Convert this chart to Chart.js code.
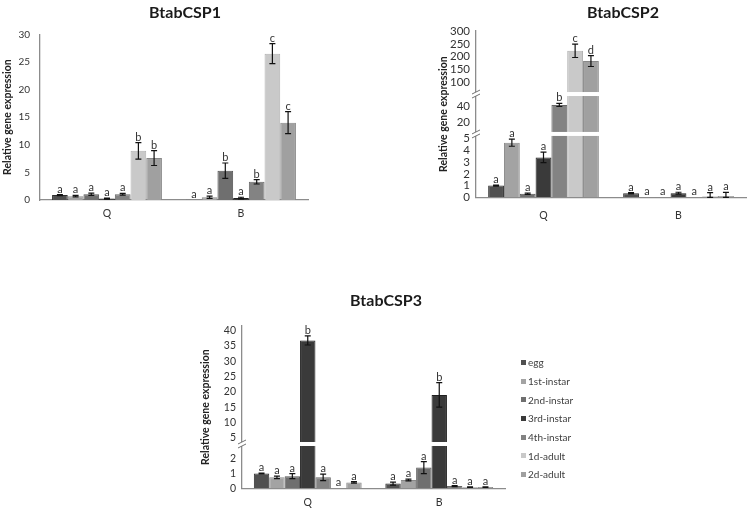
<!DOCTYPE html>
<html>
<head>
<meta charset="utf-8">
<title>BtabCSP expression</title>
<script src="https://cdn.jsdelivr.net/npm/chart.js@4.4.0/dist/chart.umd.min.js"></script>
<style>
  html, body { margin: 0; padding: 0; background: #fff; width: 750px; height: 514px; overflow: hidden; }
  canvas { position: absolute; left: 0; top: 0; }
  #legend { position: absolute; left: 521px; top: 353px; margin: 0; padding: 0; list-style: none;
            font: 10px Lato, sans-serif; color: #404040; }
  #legend li { height: 18.7px; display: flex; align-items: center; white-space: nowrap; }
  #legend .box { display: inline-block; width: 5px; height: 5px; margin-right: 2px; }
</style>
</head>
<body>
<canvas id="csp1" width="750" height="514"></canvas>
<canvas id="csp2" width="750" height="514"></canvas>
<canvas id="csp3" width="750" height="514"></canvas>
<ul id="legend"></ul>
<script>
// groups on the x axis and the seven developmental stages (one dataset each)
const groups = ['Q', 'B'];
const stages = ['egg', '1st-instar', '2nd-instar', '3rd-instar', '4th-instar', '1d-adult', '2d-adult'];

// BtabCSP1 -- one row per stage, [Q, B]
const csp1Mean = [[0.9, 0.05], [0.7, 0.5], [1.05, 5.3], [0.25, 0.35], [1.05, 3.3], [8.9, 26.5], [7.6, 14.0]];
const csp1Err  = [[0.1, 0], [0.15, 0.2], [0.2, 1.4], [0.1, 0.15], [0.15, 0.4], [1.5, 1.8], [1.35, 2.0]];
const csp1Sig  = [['a', 'a'], ['a', 'a'], ['a', 'b'], ['a', 'a'], ['a', 'b'], ['b', 'c'], ['b', 'c']];
const csp1Ticks = [0, 5, 10, 15, 20, 25, 30];

// BtabCSP2 (broken axis)
const csp2Mean = [[1.0, 0.35], [4.65, 0.02], [0.3, 0.02], [3.4, 0.35], [41.5, 0.02], [223, 0.1], [183, 0.12]];
const csp2Err  = [[0.05, 0.05], [0.3, 0], [0.06, 0], [0.45, 0.08], [2, 0], [26, 0.3], [21, 0.3]];
const csp2Sig  = [['a', 'a'], ['a', 'a'], ['a', 'a'], ['a', 'a'], ['b', 'a'], ['c', 'a'], ['d', 'a']];
const csp2Ticks = [0, 1, 2, 3, 4, 5, 20, 40, 100, 150, 200, 250, 300];
const csp2Breaks = [0, 5.4, 55, 300];

// BtabCSP3 (broken axis)
const csp3Mean = [[1.0, 0.32], [0.74, 0.56], [0.82, 1.4], [36.8, 19], [0.74, 0.15], [0.02, 0.08], [0.4, 0.08]];
const csp3Err  = [[0.03, 0.1], [0.08, 0.06], [0.17, 0.4], [1.5, 4], [0.22, 0.04], [0, 0.02], [0.05, 0.02]];
const csp3Sig  = [['a', 'a'], ['a', 'a'], ['a', 'a'], ['b', 'b'], ['a', 'a'], ['a', 'a'], ['a', 'a']];
const csp3Ticks = [0, 1, 2, 5, 10, 15, 20, 25, 30, 35, 40];
const csp3Breaks = [0, 3, 41.5];

const stageFill = ['#505050', '#a3a3a3', '#6f6f6f', '#3a3a3a', '#838383', '#c9c9c9', '#a0a0a0'];
const stageEdge = ['#2e2e2e', '#8a8a8a', '#545454', '#1f1f1f', '#686868', '#b0b0b0', '#888888'];

Chart.defaults.font.family = "Lato, 'Open Sans', sans-serif";
Chart.defaults.color = '#333';

// linear axis cut into pieces: breakValues[k]..breakValues[k+1] fills breakFracs[k]..breakFracs[k+1] of the height
class BrokenScale extends Chart.LinearScale {
  static id = 'broken';
  static defaults = {};
  buildTicks() {
    return this.options.tickValues.map(v => ({ value: v }));
  }
  getPixelForValue(value) {
    const bv = this.options.breakValues, bf = this.options.breakFracs;
    let k = 0;
    while (k < bv.length - 2 && value > bv[k + 1]) k++;
    const t = (value - bv[k]) / (bv[k + 1] - bv[k]);
    const f = bf[k] + t * (bf[k + 1] - bf[k]);
    return this.bottom - f * (this.bottom - this.top);
  }
  getValueForPixel(pixel) {
    const bv = this.options.breakValues, bf = this.options.breakFracs;
    const f = (this.bottom - pixel) / (this.bottom - this.top);
    let k = 0;
    while (k < bf.length - 2 && f > bf[k + 1]) k++;
    return bv[k] + (f - bf[k]) / (bf[k + 1] - bf[k]) * (bv[k + 1] - bv[k]);
  }
}
Chart.register(BrokenScale);

const panelTitle = {
  id: 'panelTitle',
  afterDraw(chart, args, opts) {
    const ctx = chart.ctx;
    ctx.save();
    ctx.font = 'bold 16px Lato, sans-serif';
    ctx.fillStyle = '#1a1a1a';
    ctx.textAlign = 'center';
    ctx.textBaseline = 'middle';
    ctx.fillText(opts.text, opts.x, opts.y);
    ctx.restore();
  }
};

// axis cuts, error bars and significance letters
const errorBars = {
  id: 'errorBars',
  afterDatasetsDraw(chart) {
    const ctx = chart.ctx, y = chart.scales.y, area = chart.chartArea;
    ctx.save();
    const bv = y.options.breakValues;
    if (bv) {
      for (let k = 1; k < bv.length - 1; k++) {
        const py = y.getPixelForValue(bv[k]);
        ctx.fillStyle = '#fff';
        ctx.fillRect(area.left + 1, py - 2, area.right - area.left, 4);
        ctx.fillRect(area.left - 1.5, py - 2, 3, 4);
        ctx.strokeStyle = '#707070';
        ctx.lineWidth = 1;
        for (const d of [-2, 2]) {
          ctx.beginPath();
          ctx.moveTo(area.left - 4, py + d + 2);
          ctx.lineTo(area.left + 4, py + d - 2);
          ctx.stroke();
        }
      }
    }
    chart.data.datasets.forEach((ds, i) => {
      const meta = chart.getDatasetMeta(i);
      meta.data.forEach((bar, j) => {
        const v = ds.data[j], e = ds.errors[j];
        const top = y.getPixelForValue(v + e);
        if (e > 0) {
          const bot = y.getPixelForValue(Math.max(v - e, 0));
          ctx.strokeStyle = '#111';
          ctx.lineWidth = 1.2;
          ctx.beginPath();
          ctx.moveTo(bar.x, bot); ctx.lineTo(bar.x, top);
          ctx.moveTo(bar.x - 3, top); ctx.lineTo(bar.x + 3, top);
          ctx.moveTo(bar.x - 3, bot); ctx.lineTo(bar.x + 3, bot);
          ctx.stroke();
        }
        ctx.fillStyle = '#333';
        ctx.font = '11px Lato, sans-serif';
        ctx.textAlign = 'center';
        ctx.textBaseline = 'bottom';
        ctx.fillText(ds.letters[j], bar.x, top);
      });
    });
    ctx.restore();
  }
};

function buildDatasets(mean, err, sig) {
  return stages.map((stage, i) => ({
    label: stage,
    data: mean[i],
    errors: err[i],
    letters: sig[i],
    backgroundColor: stageFill[i],
    borderColor: stageEdge[i],
    borderWidth: 1,
    categoryPercentage: 0.82,
    barPercentage: 1
  }));
}

function makePanel(id, mean, err, sig, yOpts, p) {
  const y = Object.assign({
    grid: { display: false, drawTicks: false },
    border: { color: '#8c8c8c', width: 1.3 },
    ticks: { autoSkip: false, padding: p.tickPad, font: { size: p.tickSize }, color: '#333', callback: v => v },
    title: { display: true, text: 'Relative gene expression', color: '#222',
             font: { size: 10.5, weight: 'bold' }, padding: { top: 1.8, bottom: 0 } },
    afterFit: s => { s.width = p.yWidth; }
  }, yOpts);
  return new Chart(document.getElementById(id), {
    type: 'bar',
    data: { labels: groups, datasets: buildDatasets(mean, err, sig) },
    options: {
      responsive: false,
      animation: false,
      events: [],
      layout: { padding: p.pad },
      plugins: {
        legend: { display: false },
        tooltip: { enabled: false },
        panelTitle: p.title
      },
      scales: {
        x: {
          grid: { display: false, drawTicks: false },
          border: { color: '#8c8c8c', width: 1.3 },
          ticks: { padding: p.xPad, font: { size: 10.5 }, color: '#333' },
          afterFit: s => { s.height = 25; }
        },
        y: y
      }
    },
    plugins: [errorBars, panelTitle]
  });
}

makePanel('csp1', csp1Mean, csp1Err, csp1Sig,
  { type: 'linear', min: 0, max: 30, afterBuildTicks: s => { s.ticks = csp1Ticks.map(v => ({ value: v })); } },
  { pad: { left: 0, right: 442, top: 34.3, bottom: 289 }, yWidth: 40, tickPad: 10, tickSize: 10, xPad: 7,
    title: { text: 'BtabCSP1', x: 185, y: 13 } });

makePanel('csp2', csp2Mean, csp2Err, csp2Sig,
  { type: 'broken', min: 0, max: 300, tickValues: csp2Ticks, breakValues: csp2Breaks, breakFracs: [0, 0.381, 0.621, 1] },
  { pad: { left: 436, right: 4, top: 31, bottom: 291.7 }, yWidth: 40, tickPad: 6, tickSize: 11.5, xPad: 12,
    title: { text: 'BtabCSP2', x: 623, y: 13 } });

const chart3 = makePanel('csp3', csp3Mean, csp3Err, csp3Sig,
  { type: 'broken', min: 0, max: 41.5, tickValues: csp3Ticks, breakValues: csp3Breaks, breakFracs: [0, 0.273, 1] },
  { pad: { left: 198, right: 245, top: 326, bottom: 0.7 }, yWidth: 44, tickPad: 6, tickSize: 10.5, xPad: 8.5,
    title: { text: 'BtabCSP3', x: 386, y: 301 } });

// legend as html, built from the third chart's own legend items
const list = document.getElementById('legend');
chart3.options.plugins.legend.labels.generateLabels(chart3).forEach(item => {
  const li = document.createElement('li');
  const box = document.createElement('span');
  box.className = 'box';
  box.style.background = item.fillStyle;
  li.appendChild(box);
  li.appendChild(document.createTextNode(item.text));
  list.appendChild(li);
});
</script>
</body>
</html>
